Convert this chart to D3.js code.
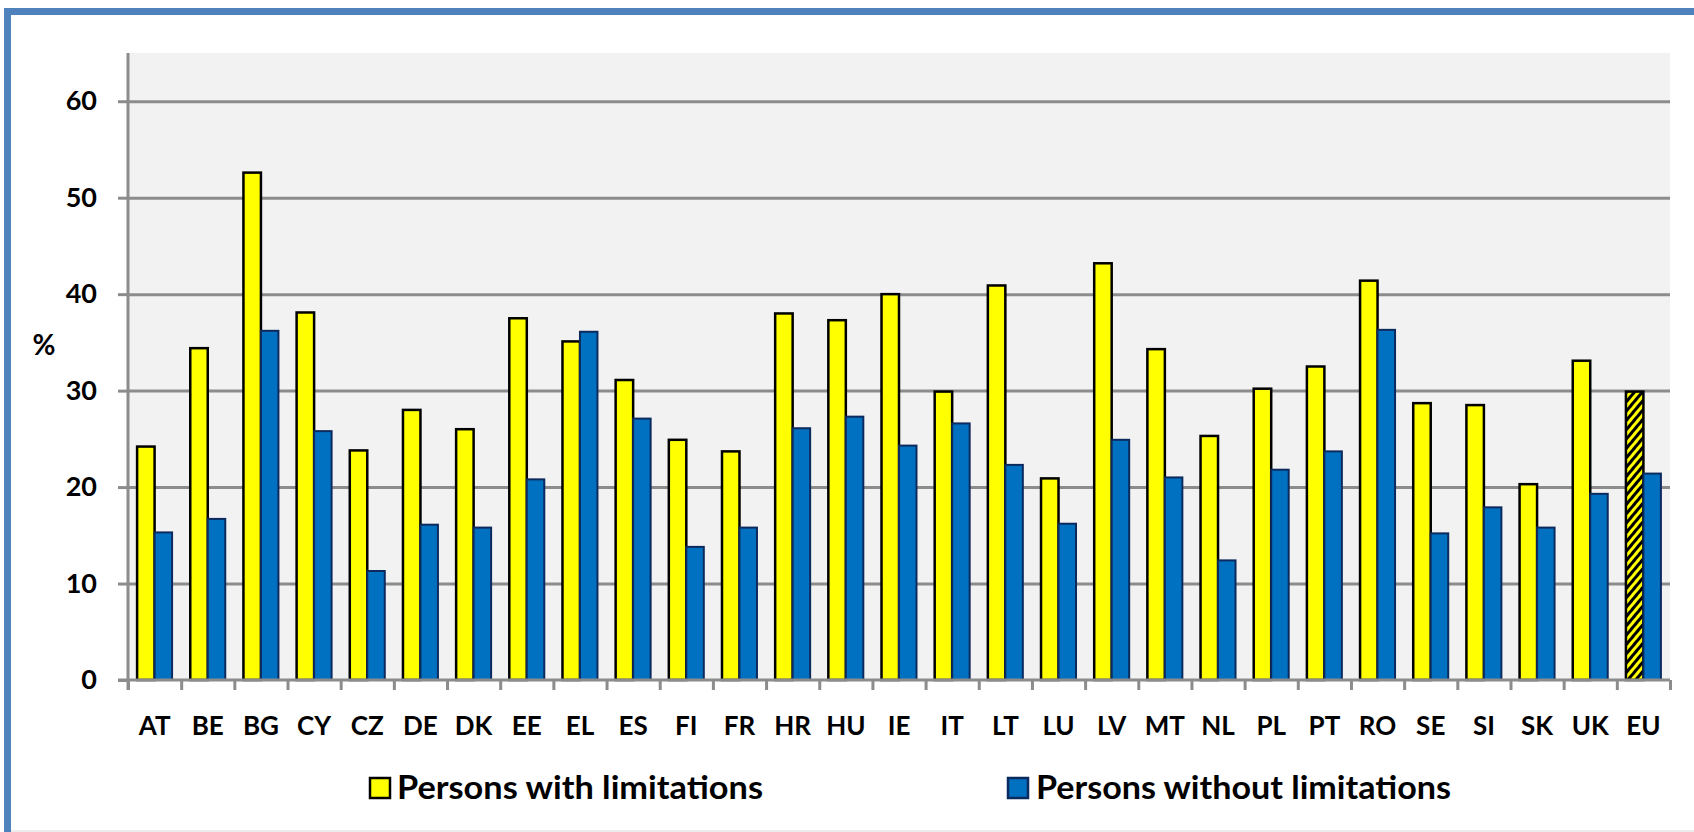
<!DOCTYPE html>
<html>
<head>
<meta charset="utf-8">
<script src="https://cdn.jsdelivr.net/npm/d3@7"></script>
<style>
  html, body { margin: 0; padding: 0; background: #ffffff; }
  svg { display: block; }
  text { font-family: Lato, "Open Sans", "DejaVu Sans", sans-serif; font-weight: 700; fill: #000; }
</style>
</head>
<body>
<svg id="chart" width="1694" height="832"></svg>
<script>
// Countries (EU average last)
const categories = ["AT","BE","BG","CY","CZ","DE","DK","EE","EL","ES","FI","FR","HR","HU","IE","IT","LT","LU","LV","MT","NL","PL","PT","RO","SE","SI","SK","UK","EU"];

// Share of persons (%) by limitation status
const withLimitations = [24.2, 34.4, 52.6, 38.1, 23.8, 28.0, 26.0, 37.5, 35.1, 31.1, 24.9, 23.7, 38.0, 37.3, 40.0, 29.9, 40.9, 20.9, 43.2, 34.3, 25.3, 30.2, 32.5, 41.4, 28.7, 28.5, 20.3, 33.1, 29.9];
const withoutLimitations = [15.3, 16.7, 36.2, 25.8, 11.3, 16.1, 15.8, 20.8, 36.1, 27.1, 13.8, 15.8, 26.1, 27.3, 24.3, 26.6, 22.3, 16.2, 24.9, 21.0, 12.4, 21.8, 23.7, 36.3, 15.2, 17.9, 15.8, 19.3, 21.4];

const seriesNames = ["Persons with limitations", "Persons without limitations"];
const yTicks = [0, 10, 20, 30, 40, 50, 60];

const svg = d3.select("#chart");
const W = 1694, H = 832;
const plot = { left: 128, right: 1670, top: 53, bottom: 680 };

// Hatch pattern for the EU aggregate bar
const defs = svg.append("defs");
const hatch = defs.append("pattern")
  .attr("id", "euHatch")
  .attr("patternUnits", "userSpaceOnUse")
  .attr("width", 6).attr("height", 6)
  .attr("patternTransform", "rotate(40)");
hatch.append("rect").attr("width", 6).attr("height", 6).attr("fill", "#ffff00");
hatch.append("rect").attr("x", 0).attr("y", 0).attr("width", 3).attr("height", 6).attr("fill", "#000");

// Outer frame
svg.append("rect")
  .attr("x", 7.5).attr("y", 11.5)
  .attr("width", W + 20).attr("height", H + 20)
  .attr("fill", "none")
  .attr("stroke", "#4f81bd")
  .attr("stroke-width", 7);
svg.append("line")
  .attr("x1", 11).attr("x2", W).attr("y1", 831).attr("y2", 831)
  .attr("stroke", "#ececec").attr("stroke-width", 2);

// Scales
const x0 = d3.scaleBand().domain(categories).range([plot.left, plot.right]).padding(0);
const x1 = d3.scaleBand().domain(["with", "without"]).range([0, x0.bandwidth()]).paddingInner(0).paddingOuter(0.52);
const y = d3.scaleLinear().domain([0, 65]).range([plot.bottom, plot.top]);

// Plot background
svg.append("rect")
  .attr("x", plot.left).attr("y", plot.top)
  .attr("width", plot.right - plot.left).attr("height", plot.bottom - plot.top)
  .attr("fill", "#f2f2f2");

const gridColor = "#8c8c8c";

// Horizontal gridlines
const grid = svg.append("g")
  .attr("transform", `translate(${plot.left},0)`)
  .call(d3.axisLeft(y).tickValues(yTicks.filter(v => v > 0)).tickSize(-(plot.right - plot.left)).tickFormat(""));
grid.select(".domain").remove();
grid.selectAll("line").attr("stroke", gridColor).attr("stroke-width", 3);

// Bars
const rows = categories.map((c, i) => ({ c, w: withLimitations[i], wo: withoutLimitations[i] }));
const groups = svg.append("g").selectAll("g")
  .data(rows).join("g")
  .attr("transform", d => `translate(${x0(d.c)},0)`);

groups.append("rect")
  .attr("x", x1("with"))
  .attr("y", d => y(d.w))
  .attr("width", x1.bandwidth())
  .attr("height", d => y(0) - y(d.w))
  .attr("fill", d => d.c === "EU" ? "url(#euHatch)" : "#ffff00")
  .attr("stroke", "#000")
  .attr("stroke-width", 2.5);

groups.append("rect")
  .attr("x", x1("without"))
  .attr("y", d => y(d.wo))
  .attr("width", x1.bandwidth())
  .attr("height", d => y(0) - y(d.wo))
  .attr("fill", "#0070c0")
  .attr("stroke", "#0d2a5e")
  .attr("stroke-width", 2);

// Y axis
const yAxis = svg.append("g")
  .attr("transform", `translate(${plot.left},0)`)
  .call(d3.axisLeft(y).tickValues(yTicks).tickSize(10).tickPadding(21));
yAxis.select(".domain").attr("d", `M0,${plot.top}V${plot.bottom + 10}`).attr("stroke", gridColor).attr("stroke-width", 3);
yAxis.selectAll("line").attr("stroke", gridColor).attr("stroke-width", 3);
yAxis.selectAll("text").attr("font-size", 27).attr("font-family", "Lato, sans-serif").attr("font-weight", 700).attr("fill", "#000");

// X axis: boundary ticks
const xIdx = d3.scaleLinear().domain([0, categories.length]).range([plot.left, plot.right]);
const xTicks = svg.append("g")
  .attr("transform", `translate(0,${plot.bottom})`)
  .call(d3.axisBottom(xIdx).tickValues(d3.range(categories.length + 1)).tickSize(10).tickFormat(""));
xTicks.select(".domain").attr("d", `M${plot.left - 10},0H${plot.right}`).attr("stroke", gridColor).attr("stroke-width", 3);
xTicks.selectAll("line").attr("stroke", gridColor).attr("stroke-width", 3);

// X axis: category labels
const xLabels = svg.append("g")
  .attr("transform", `translate(0,${plot.bottom})`)
  .call(d3.axisBottom(x0).tickSize(0).tickPadding(0));
xLabels.select(".domain").remove();
xLabels.selectAll("text")
  .attr("y", 55).attr("dy", null)
  .attr("font-size", 26).attr("font-family", "Lato, sans-serif").attr("font-weight", 700).attr("fill", "#000");

// Axis title
svg.append("text")
  .attr("x", 44).attr("y", 355)
  .attr("text-anchor", "middle")
  .attr("font-size", 28)
  .text("%");

// Legend
const legend = [
  { name: seriesNames[0], fill: "#ffff00", stroke: "#000", sx: 370, tx: 397, tw: 366 },
  { name: seriesNames[1], fill: "#0070c0", stroke: "#0d2a5e", sx: 1008, tx: 1036, tw: 415 }
];
const lg = svg.append("g").selectAll("g").data(legend).join("g");
lg.append("rect")
  .attr("x", d => d.sx).attr("y", 778)
  .attr("width", 20).attr("height", 20)
  .attr("fill", d => d.fill).attr("stroke", d => d.stroke).attr("stroke-width", 2.5);
lg.append("text")
  .attr("x", d => d.tx).attr("y", 799)
  .attr("font-size", 32)
  .attr("textLength", d => d.tw)
  .attr("lengthAdjust", "spacingAndGlyphs")
  .text(d => d.name);
</script>
</body>
</html>
